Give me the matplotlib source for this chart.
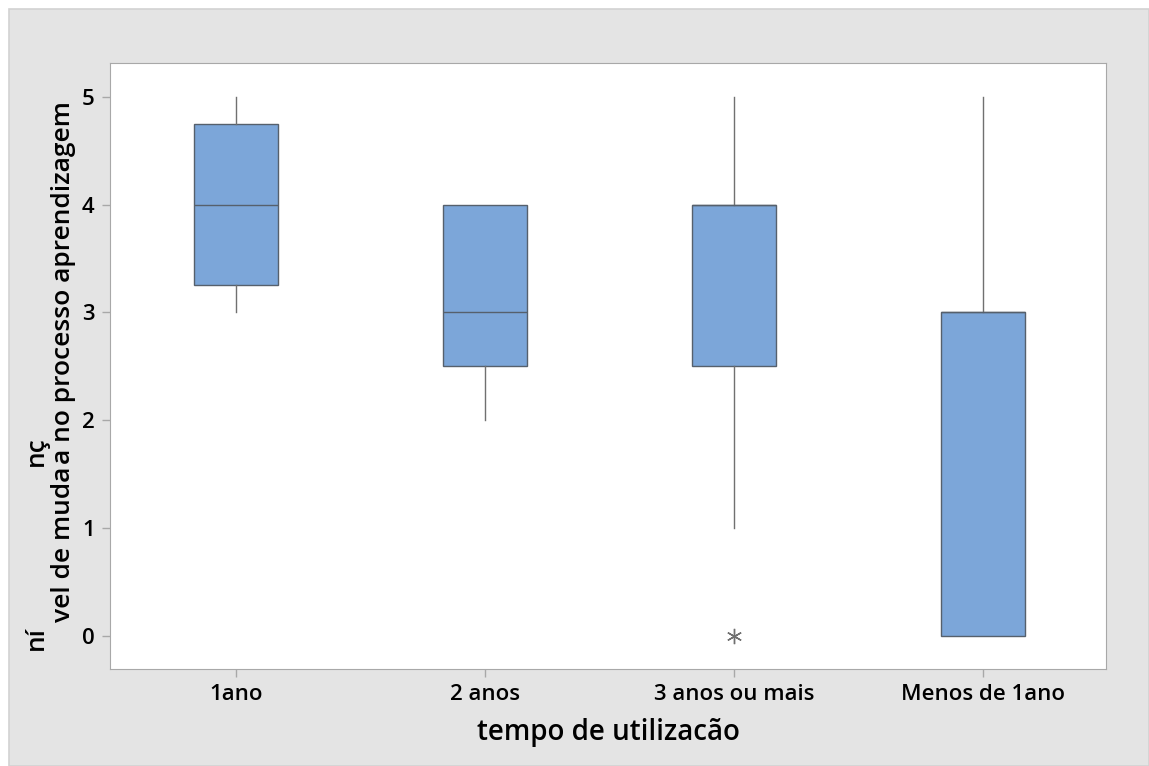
import matplotlib.pyplot as plt
from matplotlib.patches import Rectangle

plt.rcParams['font.family'] = ['Open Sans', 'DejaVu Sans']

categorias = ["1ano", "2 anos", "3 anos ou mais", "Menos de 1ano"]
q1 = [3.25, 2.5, 2.5, 0.0]
mediana = [4.0, 3.0, 4.0, 3.0]
q3 = [4.75, 4.0, 4.0, 3.0]
bigode_inf = [3.0, 2.0, 1.0, 0.0]
bigode_sup = [5.0, 4.0, 5.0, 5.0]
outliers = [[], [], [0.0], []]

W, H = 1149, 766
fig = plt.figure(figsize=(W / 100, H / 100), dpi=100)
fig.patch.set_facecolor("white")
# fundo cinza do minitab
fig.patches.append(Rectangle((9 / W, 0), 1 - 9 / W, 1 - 9 / H, transform=fig.transFigure,
                             facecolor="#e4e4e4", edgecolor="#d2d2d2", linewidth=1.2, zorder=-10))

ax = fig.add_axes([110 / W, 1 - 669 / H, (1106 - 110) / W, (669 - 63) / H])
ax.set_facecolor("white")

stats = []
for i in range(len(categorias)):
    stats.append(dict(med=mediana[i], q1=q1[i], q3=q3[i],
                      whislo=bigode_inf[i], whishi=bigode_sup[i], fliers=outliers[i]))

ax.bxp(stats, positions=range(1, 5), widths=0.335, showcaps=False, patch_artist=True,
       boxprops=dict(facecolor="#7ca6d9", edgecolor="#56606c", linewidth=1.0),
       medianprops=dict(color="#56606c", linewidth=1.0),
       whiskerprops=dict(color="#707070", linewidth=1.0),
       flierprops=dict(marker=(6, 2, 0), markersize=11, markeredgecolor="#707070",
                       markerfacecolor="#707070", linestyle="none"))

ax.set_xlim(0.494, 4.494)
ax.set_ylim(-0.31, 5.315)
ax.set_xticks(range(1, 5))
ax.set_xticklabels(categorias)
ax.set_yticks(range(0, 6))
for s in ax.spines.values():
    s.set_color("#a8a8a8")
ax.tick_params(colors="#a8a8a8", labelcolor="black", length=6, width=1, pad=5)
for lab in ax.get_xticklabels() + ax.get_yticklabels():
    lab.set_fontsize(16)
    lab.set_fontweight("semibold")

ax.set_xlabel("tempo de utilizacão", fontsize=20, fontweight="semibold", labelpad=9)

# rótulo do eixo y, com os pedaços deslocados como no original
kw = dict(rotation=90, fontsize=19, fontweight="semibold", ha="center", va="bottom")
fig.text(36 / W, 1 - 650 / H, "ní", **kw)
t1 = fig.text(63 / W, 1 - 622 / H, "vel de muda", **kw)
fig.canvas.draw()
topo = (t1.get_window_extent().y1 + 3) / H
fig.text(36 / W, topo - 2 / H, "nç", **kw)
fig.text(63 / W, topo, "a no processo aprendizagem", **kw)

fig.savefig("out.png", dpi=100)
